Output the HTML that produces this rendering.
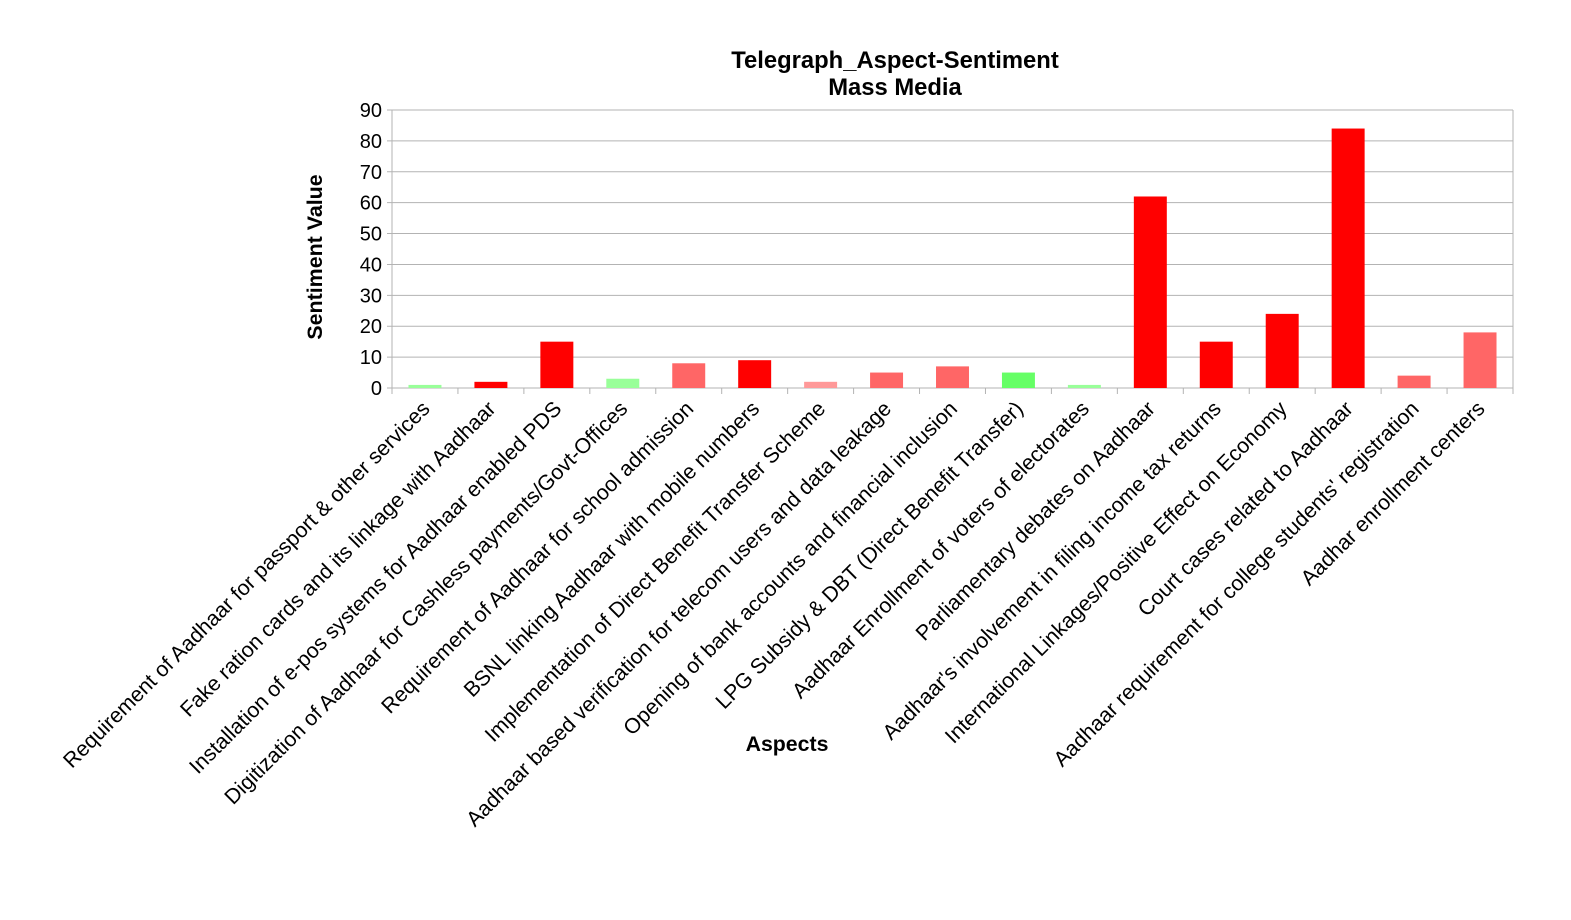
<!DOCTYPE html>
<html><head><meta charset="utf-8"><style>body{margin:0;background:#fff}svg{display:block;font-family:"Liberation Sans",sans-serif}</style></head>
<body>
<svg id="c" width="1571" height="920">
<text x="895" y="68" text-anchor="middle" font-size="23.8" font-weight="bold">Telegraph_Aspect-Sentiment</text>
<text x="895" y="95" text-anchor="middle" font-size="23.8" font-weight="bold">Mass Media</text>
<text transform="translate(322,257) rotate(-90)" text-anchor="middle" font-size="21.4" font-weight="bold">Sentiment Value</text>
<text x="787" y="751" text-anchor="middle" font-size="21.3" font-weight="bold">Aspects</text>
<g id="g"></g>
</svg>
<script>
const categories=["Requirement of Aadhaar for passport & other services","Fake ration cards and its linkage with Aadhaar","Installation of e-pos systems for Aadhaar enabled PDS","Digitization of Aadhaar for Cashless payments/Govt-Offices","Requirement of Aadhaar for school admission","BSNL linking Aadhaar with mobile numbers","Implementation of Direct Benefit Transfer Scheme","Aadhaar based verification for telecom users and data leakage","Opening of bank accounts and financial inclusion","LPG Subsidy & DBT (Direct Benefit Transfer)","Aadhaar Enrollment of voters of electorates","Parliamentary debates on Aadhaar","Aadhaar's involvement in filing income tax returns","International Linkages/Positive Effect on Economy","Court cases related to Aadhaar","Aadhaar requirement for college students' registration","Aadhar enrollment centers"];
const values=[1,2,15,3,8,9,2,5,7,5,1,62,15,24,84,4,18];
const colors=["#99ff99","#ff0000","#ff0000","#99ff99","#ff6666","#ff0000","#ff9999","#ff6666","#ff6666","#66ff66","#99ff99","#ff0000","#ff0000","#ff0000","#ff0000","#ff6666","#ff6666"];
const yTicks=[0,10,20,30,40,50,60,70,80,90];
const X0=392,X1=1513,Y0=388,Y1=110,ymax=90;
const bw=(X1-X0)/categories.length;
const ys=v=>Y0-(Y0-Y1)*v/ymax;
const xs=i=>X0+bw*i;
const g=document.getElementById('g');const NS="http://www.w3.org/2000/svg";
function mk(t,a){const e=document.createElementNS(NS,t);for(const k in a)e.setAttribute(k,a[k]);g.appendChild(e);return e;}
yTicks.forEach(t=>{
 const l=mk('line',{x1:X0-5,x2:X1,y1:ys(t),y2:ys(t),stroke:'#b3b3b3','stroke-width':1});
 
 
 const tx=mk('text',{x:382,y:ys(t)+7,'text-anchor':'end','font-size':20});tx.textContent=t;
 
 
});
const ax=mk('line',{x1:X0,x2:X0,y1:Y1,y2:Y0+5,stroke:'#b3b3b3'});


const ax2=mk('line',{x1:X1,x2:X1,y1:Y1,y2:Y0,stroke:'#b3b3b3'});


for(let i=0;i<=categories.length;i++){const t=mk('line',{x1:xs(i),x2:xs(i),y1:Y0,y2:Y0+6,stroke:'#b3b3b3'});
 
 }
categories.forEach((c,i)=>{
 const cx=xs(i)+bw/2,w=bw*0.5;
 const r=mk('rect',{x:cx-w/2,y:ys(values[i]),width:w,height:Y0-ys(values[i]),fill:colors[i]});
 
 
 const t=mk('text',{transform:`translate(${cx+6},${Y0+22}) rotate(-45)`,'text-anchor':'end','font-size':21.3});
 t.textContent=c;
 
 
});
</script>
</body></html>
